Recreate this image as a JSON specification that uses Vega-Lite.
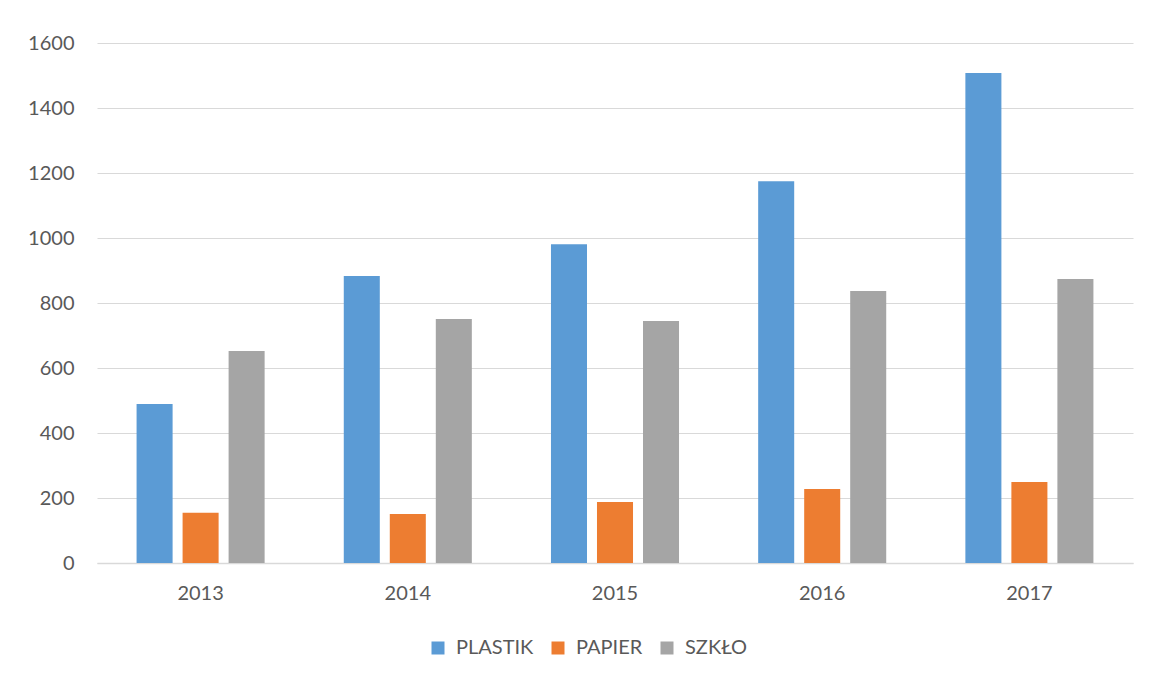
{
  "$schema": "https://vega.github.io/schema/vega-lite/v6.json",
  "width": 1036,
  "height": 520,
  "autosize": {"type": "none"},
  "padding": {"left": 97, "top": 43, "right": 18, "bottom": 115},
  "background": "white",
  "data": {
    "values": [
      {"year": "2013", "type": "PLASTIK", "value": 489},
      {"year": "2013", "type": "PAPIER", "value": 155},
      {"year": "2013", "type": "SZKŁO", "value": 652},
      {"year": "2014", "type": "PLASTIK", "value": 883},
      {"year": "2014", "type": "PAPIER", "value": 151},
      {"year": "2014", "type": "SZKŁO", "value": 751},
      {"year": "2015", "type": "PLASTIK", "value": 981},
      {"year": "2015", "type": "PAPIER", "value": 188},
      {"year": "2015", "type": "SZKŁO", "value": 745},
      {"year": "2016", "type": "PLASTIK", "value": 1175},
      {"year": "2016", "type": "PAPIER", "value": 228},
      {"year": "2016", "type": "SZKŁO", "value": 837},
      {"year": "2017", "type": "PLASTIK", "value": 1508},
      {"year": "2017", "type": "PAPIER", "value": 249},
      {"year": "2017", "type": "SZKŁO", "value": 874}
    ]
  },
  "mark": {"type": "bar"},
  "encoding": {
    "x": {
      "field": "year",
      "type": "nominal",
      "scale": {"paddingInner": 0.382, "paddingOuter": 0.191},
      "axis": {
        "title": null,
        "labelAngle": 0,
        "labelFont": "Lato",
        "labelFontSize": 20,
        "labelColor": "#595959",
        "labelPadding": 20,
        "ticks": false,
        "domainColor": "#d9d9d9",
        "domainWidth": 1.5
      }
    },
    "xOffset": {
      "field": "type",
      "type": "nominal",
      "sort": ["PLASTIK", "PAPIER", "SZKŁO"],
      "scale": {"paddingInner": 0.217, "paddingOuter": 0}
    },
    "y": {
      "field": "value",
      "type": "quantitative",
      "scale": {"domain": [0, 1600], "nice": false},
      "axis": {
        "title": null,
        "format": "d",
        "values": [0, 200, 400, 600, 800, 1000, 1200, 1400, 1600],
        "domain": false,
        "ticks": false,
        "grid": true,
        "gridColor": "#d9d9d9",
        "gridWidth": 1.2,
        "labelFont": "Lato",
        "labelFontSize": 20,
        "labelColor": "#595959",
        "labelPadding": 23
      }
    },
    "color": {
      "field": "type",
      "type": "nominal",
      "sort": ["PLASTIK", "PAPIER", "SZKŁO"],
      "scale": {"domain": ["PLASTIK", "PAPIER", "SZKŁO"], "range": ["#5B9BD5", "#ED7D31", "#A5A5A5"]},
      "legend": {
        "title": null,
        "orient": "none",
        "direction": "horizontal",
        "legendX": 331,
        "legendY": 595,
        "symbolType": "square",
        "symbolSize": 169,
        "symbolStrokeWidth": 0,
        "labelFont": "Lato",
        "labelFontSize": 20,
        "labelColor": "#595959",
        "labelOffset": 8,
        "columnPadding": 14
      }
    }
  },
  "config": {
    "view": {"stroke": null}
  }
}
